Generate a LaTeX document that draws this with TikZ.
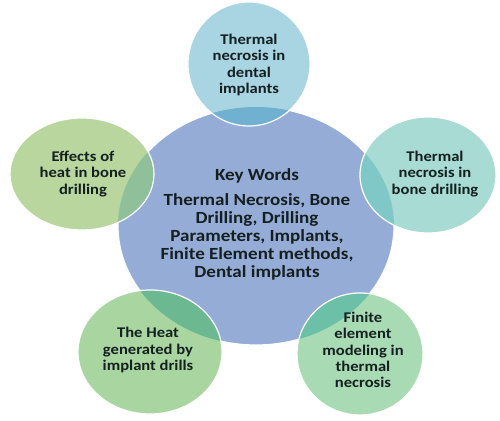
\documentclass[tikz,border=0pt]{standalone}
\usepackage{fontspec}
\setmainfont{Carlito}[FakeStretch=1.12]
\usepackage{tikz}
\usetikzlibrary{positioning}
\definecolor{kwblue}{HTML}{95ACD7}
\definecolor{topblue}{HTML}{A9D4E2}
\definecolor{rightteal}{HTML}{A7DBD4}
\definecolor{leftgreen}{HTML}{B8D69D}
\definecolor{blgreen}{HTML}{A9D6A0}
\definecolor{brgreen}{HTML}{A8DAB4}
\definecolor{ovtop}{HTML}{70B0D0}
\definecolor{ovleft}{HTML}{8FC09A}
\definecolor{ovright}{HTML}{80C8C8}
\definecolor{ovbl}{HTML}{6CB890}
\definecolor{ovbr}{HTML}{6CC0A8}
\definecolor{txt}{HTML}{142020}
\begin{document}
\begin{tikzpicture}[x=1pt,y=1pt,
  rim/.style={draw=white,line width=1.2pt},
  lbl/.style={align=center,font=\bfseries\fontsize{14.8}{16.4}\selectfont,text=txt,inner sep=0pt}]
\useasboundingbox (0,0) rectangle (500,420);
\coordinate (kw) at (256,194);
\coordinate (t) at (249,356);
\coordinate (l) at (82,246);
\coordinate (r) at (428,245);
\coordinate (bl) at (150,68);
\coordinate (br) at (360,66);
\draw[rim,fill=kwblue] (kw) ellipse [x radius=138,y radius=119];
\fill[topblue] (t) ellipse [x radius=61,y radius=62];
\fill[leftgreen] (l) ellipse [x radius=72,y radius=56];
\fill[rightteal] (r) ellipse [x radius=68,y radius=58];
\fill[blgreen] (bl) ellipse [x radius=72,y radius=62];
\fill[brgreen] (br) ellipse [x radius=63,y radius=61];
\begin{scope}
\clip (kw) ellipse [x radius=138,y radius=119];
\fill[ovtop] (t) ellipse [x radius=61,y radius=62];
\fill[ovleft] (l) ellipse [x radius=72,y radius=56];
\fill[ovright] (r) ellipse [x radius=68,y radius=58];
\fill[ovbl] (bl) ellipse [x radius=72,y radius=62];
\fill[ovbr] (br) ellipse [x radius=63,y radius=61];
\end{scope}
\draw[rim] (t) ellipse [x radius=61,y radius=62];
\draw[rim] (l) ellipse [x radius=72,y radius=56];
\draw[rim] (r) ellipse [x radius=68,y radius=58];
\draw[rim] (bl) ellipse [x radius=72,y radius=62];
\draw[rim] (br) ellipse [x radius=63,y radius=61];
\node (kwtext) [lbl,font=\bfseries\fontsize{17}{18}\selectfont] at (257,196)
  {Key Words\\[7pt] Thermal Necrosis, Bone\\ Drilling, Drilling\\ Parameters, Implants,\\ Finite Element methods,\\ Dental implants};
\node (ttext) [lbl] at (249,355) {Thermal\\ necrosis in\\ dental\\ implants};
\node (ltext) [lbl] at (83,246) {Effects of\\ heat in bone\\ drilling};
\node (rtext) [lbl] at (435,246) {Thermal\\ necrosis in\\ bone drilling};
\node (bltext) [lbl] at (148,70) {The Heat\\ generated by\\ implant drills};
\node (brtext) [lbl] at (363,70) {Finite\\ element\\ modeling in\\ thermal\\ necrosis};
\end{tikzpicture}
\end{document}
